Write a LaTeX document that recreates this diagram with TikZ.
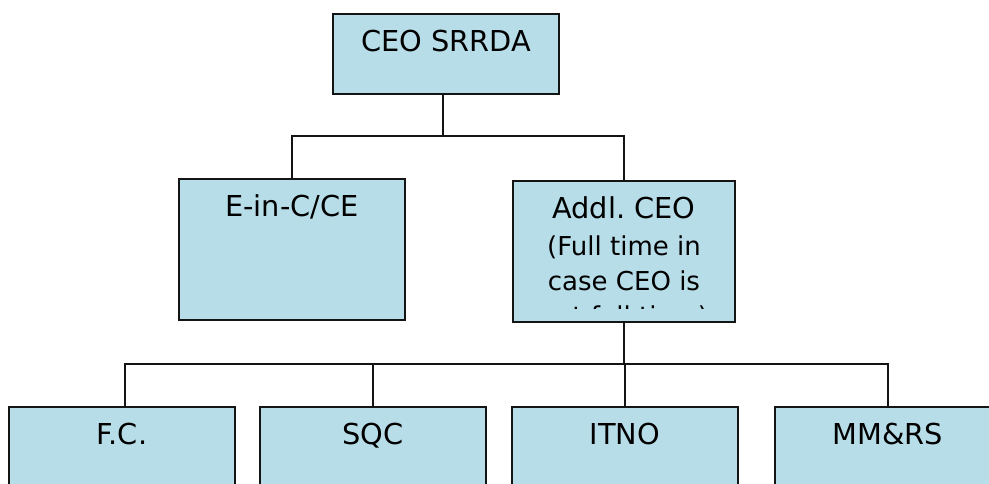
\documentclass[tikz,border=0pt]{standalone}
\usepackage{fontspec}
\setmainfont{DejaVu Sans}
\frenchspacing
\definecolor{boxblue}{RGB}{183, 221, 232}
\definecolor{edge}{RGB}{20, 20, 20}

\begin{document}
\begin{tikzpicture}[x=1pt, y=-1pt,
  box/.style={draw=edge, fill=boxblue, line width=2, minimum width=226, minimum height=141, inner sep=0},
  title/.style={anchor=base, inner sep=0, font=\fontsize{28.8}{35}\selectfont},
  subline/.style={anchor=base, inner sep=0, font=\fontsize{26}{35}\selectfont},
  link/.style={draw=edge, line width=1.6}]

  \clip (0, 0) rectangle (989, 484);

  % boxes
  \node[box, minimum height=80] (ceo) at (446, 54) {};
  \node[box] (eic) at (292, 249.5) {};
  \node[box, minimum width=222] (addl) at (624, 251.5) {};
  \node[box] (fc) at (122, 477.5) {};
  \node[box] (sqc) at (373, 477.5) {};
  \node[box] (itno) at (625, 477.5) {};
  \node[box] (mmrs) at (888, 477.5) {};

  % texts
  \node[title] (ceo-t) at ([yshift=-38.5]ceo.north) {CEO SRRDA};
  \node[title] (eic-t) at ([yshift=-38.5]eic.north) {E-in-C/CE};
  \node[title] (fc-t) at ([yshift=-38.5]fc.north) {F.C.};
  \node[title] (sqc-t) at ([yshift=-38.5]sqc.north) {SQC};
  \node[title] (itno-t) at ([yshift=-38.5]itno.north) {ITNO};
  \node[title] (mmrs-t) at ([yshift=-38.5]mmrs.north) {MM\&RS};

  \begin{scope}
    \clip (addl.north west) rectangle ([yshift=-128]addl.north east);
    \node[title] (addl-t) at ([yshift=-38.5]addl.north) {Addl. CEO};
    \node[subline] (addl-t2) at ([yshift=-75.5]addl.north) {(Full time in};
    \node[subline] (addl-t3) at ([yshift=-110.5]addl.north) {case CEO is};
    \node[subline] (addl-t4) at ([yshift=-145.5]addl.north) {not full time)};
  \end{scope}

  % connectors
  \draw[link] ([xshift=-3]ceo.south) -- ++(0, 41) -| (eic.north);
  \draw[link] ([xshift=-3]ceo.south) -- ++(0, 41) -| (addl.north);
  \draw[link] (addl.south) -- ++(0, 41) -| ([xshift=3]fc.north);
  \draw[link] (addl.south) -- ++(0, 41) -| (sqc.north);
  \draw[link] (addl.south) -- ++(0, 41) -| (itno.north);
  \draw[link] (addl.south) -- ++(0, 41) -| (mmrs.north);

\end{tikzpicture}
\end{document}
